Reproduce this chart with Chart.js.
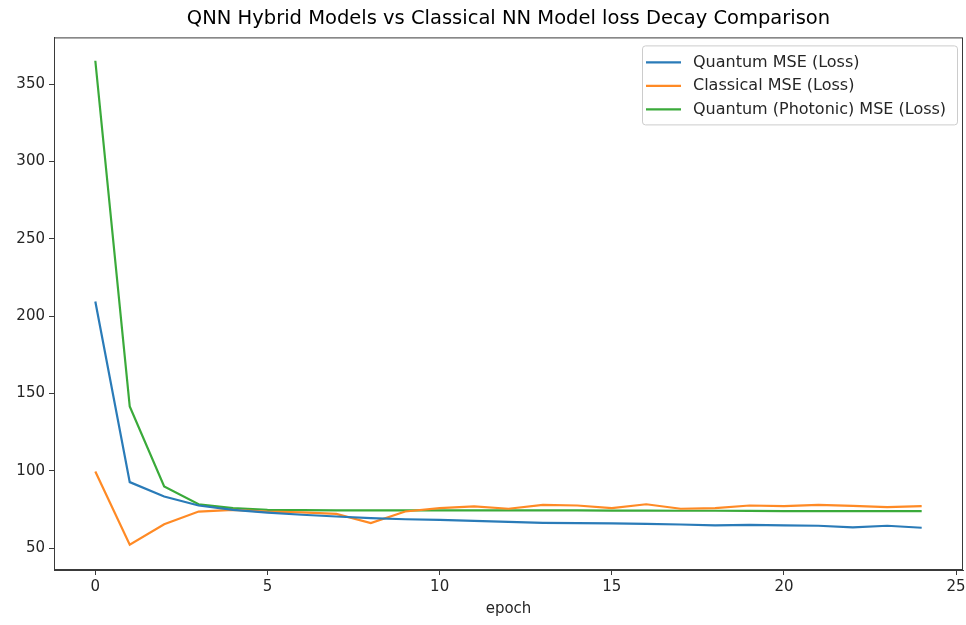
<!DOCTYPE html>
<html>
<head>
<meta charset="utf-8">
<title>QNN Hybrid Models vs Classical NN Model loss Decay Comparison</title>
<script src="https://cdn.jsdelivr.net/npm/chart.js@4/dist/chart.umd.min.js"></script>
<style>
    html, body { margin: 0; padding: 0; background: #ffffff; }
    #wrap { width: 966px; height: 625px; }
</style>
</head>
<body>
<div id="wrap"><canvas id="lossChart" width="966" height="625"></canvas></div>
<script>
// data
const epochs = [0, 1, 2, 3, 4, 5, 6, 7, 8, 9, 10, 11, 12, 13, 14, 15, 16, 17, 18, 19, 20, 21, 22, 23, 24];
const quantumLoss = [209.5, 92.7, 83.4, 77.6, 74.8, 73.0, 71.6, 70.5, 69.4, 68.7, 68.3, 67.7, 67.0, 66.4, 66.2, 66.0, 65.7, 65.3, 64.7, 65.1, 64.7, 64.5, 63.4, 64.5, 63.2];
const classicalLoss = [99.6, 52.2, 65.5, 73.7, 74.8, 73.7, 73.1, 72.2, 66.2, 73.7, 75.9, 77.0, 75.5, 78.0, 77.6, 75.9, 78.4, 75.5, 75.9, 77.6, 77.2, 78.0, 77.4, 76.5, 77.2];
const photonicLoss = [365.1, 141.6, 89.9, 78.4, 75.9, 74.8, 74.6, 74.5, 74.4, 74.4, 74.4, 74.4, 74.4, 74.4, 74.4, 74.3, 74.3, 74.2, 74.2, 74.1, 74.0, 74.0, 73.9, 73.9, 73.9];

const seriesNames = ['Quantum MSE (Loss)', 'Classical MSE (Loss)', 'Quantum (Photonic) MSE (Loss)'];
const seriesColors = ['#2a7bb8', '#ff8a25', '#3aaa3a'];

const xTickValues = [0, 5, 10, 15, 20, 25];
const yTickValues = [50, 100, 150, 200, 250, 300, 350];

const FONT = 'DejaVu Sans';
const TEXT_COLOR = '#262626';
const AXIS_COLOR = '#3a3a3a';

// pair epochs with values for the linear x axis
function toPoints(values) {
    return epochs.map((e, i) => ({ x: e, y: values[i] }));
}

// frame around the plot + legend inside the top right corner
const framePlugin = {
    id: 'frameAndLegend',
    afterDraw(chart) {
        const ctx = chart.ctx;
        const area = chart.chartArea;

        ctx.save();
        ctx.strokeStyle = AXIS_COLOR;
        ctx.lineWidth = 1;
        ctx.strokeRect(area.left + 0.5, area.top + 0.5, area.right - area.left - 1, area.bottom - area.top - 1);

        // legend box
        const boxW = 315, boxH = 79;
        const boxX = area.right - 6 - boxW;
        const boxY = area.top + 8;
        ctx.beginPath();
        ctx.roundRect(boxX + 0.5, boxY + 0.5, boxW, boxH, 3);
        ctx.fillStyle = 'rgba(255,255,255,0.8)';
        ctx.fill();
        ctx.strokeStyle = '#cccccc';
        ctx.stroke();

        ctx.font = '16px "' + FONT + '"';
        ctx.textBaseline = 'middle';
        chart.data.datasets.forEach((ds, i) => {
            const rowY = boxY + 17 + i * 23.5;
            ctx.beginPath();
            ctx.moveTo(boxX + 4, rowY);
            ctx.lineTo(boxX + 39, rowY);
            ctx.strokeStyle = ds.borderColor;
            ctx.lineWidth = 2.2;
            ctx.stroke();
            ctx.fillStyle = TEXT_COLOR;
            ctx.fillText(ds.label, boxX + 51, rowY);
        });
        ctx.restore();
    }
};

function buildDatasets() {
    const allValues = [quantumLoss, classicalLoss, photonicLoss];
    return allValues.map((values, i) => ({
        label: seriesNames[i],
        data: toPoints(values),
        borderColor: seriesColors[i],
        backgroundColor: seriesColors[i],
        borderWidth: 2.2,
        pointRadius: 0,
        tension: 0,
        fill: false
    }));
}

function renderChart() {
    const el = document.getElementById('lossChart');

    new Chart(el, {
        type: 'line',
        data: { datasets: buildDatasets() },
        options: {
            responsive: false,
            animation: false,
            devicePixelRatio: 1,
            layout: { padding: { left: 0, right: 3, top: 0, bottom: 0 } },
            plugins: {
                legend: { display: false },
                tooltip: { enabled: false },
                title: {
                    display: true,
                    fullSize: false,
                    text: 'QNN Hybrid Models vs Classical NN Model loss Decay Comparison',
                    color: '#000000',
                    font: { family: FONT, size: 19.5, weight: 'normal' },
                    padding: { top: 7, bottom: 7 }
                }
            },
            scales: {
                x: {
                    type: 'linear',
                    min: -1.2,
                    max: 25.2,
                    afterBuildTicks: scale => { scale.ticks = xTickValues.map(v => ({ value: v })); },
                    afterFit: scale => {
                        scale.height = 55;
                        scale.paddingLeft = 0;
                        scale.paddingRight = 0;
                    },
                    grid: { display: true, drawOnChartArea: false, drawTicks: true, tickLength: 5, tickColor: AXIS_COLOR },
                    border: { display: true, color: AXIS_COLOR },
                    ticks: { color: TEXT_COLOR, font: { family: FONT, size: 15 }, padding: 3, maxRotation: 0 },
                    title: {
                        display: true,
                        text: 'epoch',
                        color: TEXT_COLOR,
                        font: { family: FONT, size: 15 },
                        padding: { top: 0, bottom: 7 }
                    }
                },
                y: {
                    type: 'linear',
                    min: 35.9,
                    max: 380.2,
                    afterBuildTicks: scale => { scale.ticks = yTickValues.map(v => ({ value: v })); },
                    afterFit: scale => { scale.width = 54; },
                    grid: { display: true, drawOnChartArea: false, drawTicks: true, tickLength: 5, tickColor: AXIS_COLOR },
                    border: { display: true, color: AXIS_COLOR },
                    ticks: { color: TEXT_COLOR, font: { family: FONT, size: 15 }, padding: 4 }
                }
            }
        },
        plugins: [framePlugin]
    });
}

renderChart();
</script>
</body>
</html>
